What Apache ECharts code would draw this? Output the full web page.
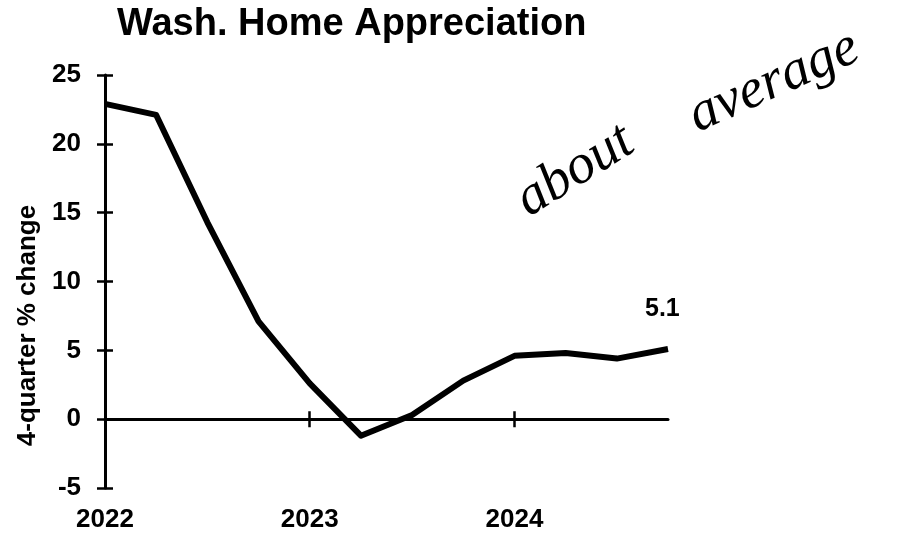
<!DOCTYPE html>
<html>
<head>
<meta charset="utf-8">
<style>
  html, body { margin: 0; padding: 0; background: #fff; }
  #chart { width: 897px; height: 535px; }
</style>
<script src="https://cdn.jsdelivr.net/npm/echarts@6/dist/echarts.min.js"></script>
</head>
<body>
<div id="chart"></div>
<script>
// Quarterly data, 2022Q1 .. 2024Q4
const quarters = ['2022Q1','2022Q2','2022Q3','2022Q4','2023Q1','2023Q2','2023Q3','2023Q4','2024Q1','2024Q2','2024Q3','2024Q4'];
const appreciation = [22.9, 22.1, 14.3, 7.1, 2.6, -1.2, 0.3, 2.8, 4.6, 4.8, 4.4, 5.1];
const yTicks = [-5, 0, 5, 10, 15, 20, 25];
const titleText = 'Wash. Home Appreciation';
const yName = '4-quarter % change';
const noteWords = ['about', 'average'];

const FONT = 'Liberation Sans, Arial, sans-serif';
const chart = echarts.init(document.getElementById('chart'));

const baseCat = {
  type: 'category', data: quarters, boundaryGap: false, position: 'bottom',
  axisLabel: { show: false }, splitLine: { show: false }
};

const noteFont = 'italic 56px "Liberation Serif", serif';

chart.setOption({
  animation: false,
  backgroundColor: '#fff',
  title: {
    text: titleText, left: 112, top: 1,
    textStyle: { fontFamily: FONT, fontWeight: 'bold', fontSize: 38, color: '#000' }
  },
  grid: { left: 105, right: 229, top: 75, bottom: 47, containLabel: false },
  xAxis: [
    Object.assign({}, baseCat, {
      axisLine: { show: true, onZero: true, lineStyle: { color: '#000', width: 3 } },
      axisTick: { show: true, interval: 3, length: 8, lineStyle: { color: '#000', width: 2.5 } }
    }),
    Object.assign({}, baseCat, {
      axisLine: { show: false, onZero: true },
      axisTick: { show: true, inside: true, interval: 3, length: 8, lineStyle: { color: '#000', width: 2.5 } }
    }),
    Object.assign({}, baseCat, {
      axisLine: { show: false, onZero: false },
      axisTick: { show: false },
      axisLabel: {
        show: true, interval: 3, margin: 19, formatter: v => v.slice(0, 4),
        fontFamily: FONT, fontWeight: 'bold', fontSize: 26, color: '#000'
      }
    })
  ],
  yAxis: [
    {
      type: 'value', min: yTicks[0], max: yTicks[yTicks.length - 1], interval: 5, position: 'left',
      name: yName, nameLocation: 'middle', nameRotate: 90, nameGap: 62,
      nameTextStyle: { fontFamily: FONT, fontWeight: 'bold', fontSize: 26, color: '#000', padding: [0, 88, 0, 0] },
      axisLine: { show: true, lineStyle: { color: '#000', width: 3 } },
      axisTick: { show: true, length: 8, lineStyle: { color: '#000', width: 2.5 } },
      axisLabel: { margin: 24, fontFamily: FONT, fontWeight: 'bold', fontSize: 26, color: '#000' },
      splitLine: { show: false }
    },
    {
      type: 'value', min: yTicks[0], max: yTicks[yTicks.length - 1], interval: 5, position: 'left',
      axisLine: { show: false },
      axisTick: { show: true, inside: true, length: 8, lineStyle: { color: '#000', width: 2.5 } },
      axisLabel: { show: false },
      splitLine: { show: false }
    }
  ],
  series: [{
    type: 'line', xAxisIndex: 0, yAxisIndex: 0, data: appreciation,
    showSymbol: false, symbol: 'none', smooth: false,
    lineStyle: { color: '#000', width: 6, join: 'round' },
    endLabel: {
      show: true, formatter: p => String(p.value), offset: [-31, -40],
      fontFamily: FONT, fontWeight: 'bold', fontSize: 25, color: '#000'
    }
  }],
  graphic: [
    {
      type: 'text', x: 575, y: 171, rotation: 32 * Math.PI / 180,
      style: { text: noteWords[0], fill: '#000', align: 'center', verticalAlign: 'middle', font: noteFont }
    },
    {
      type: 'text', x: 774, y: 82, rotation: 24 * Math.PI / 180,
      style: { text: noteWords[1], fill: '#000', align: 'center', verticalAlign: 'middle', font: noteFont }
    }
  ]
});
</script>
</body>
</html>
